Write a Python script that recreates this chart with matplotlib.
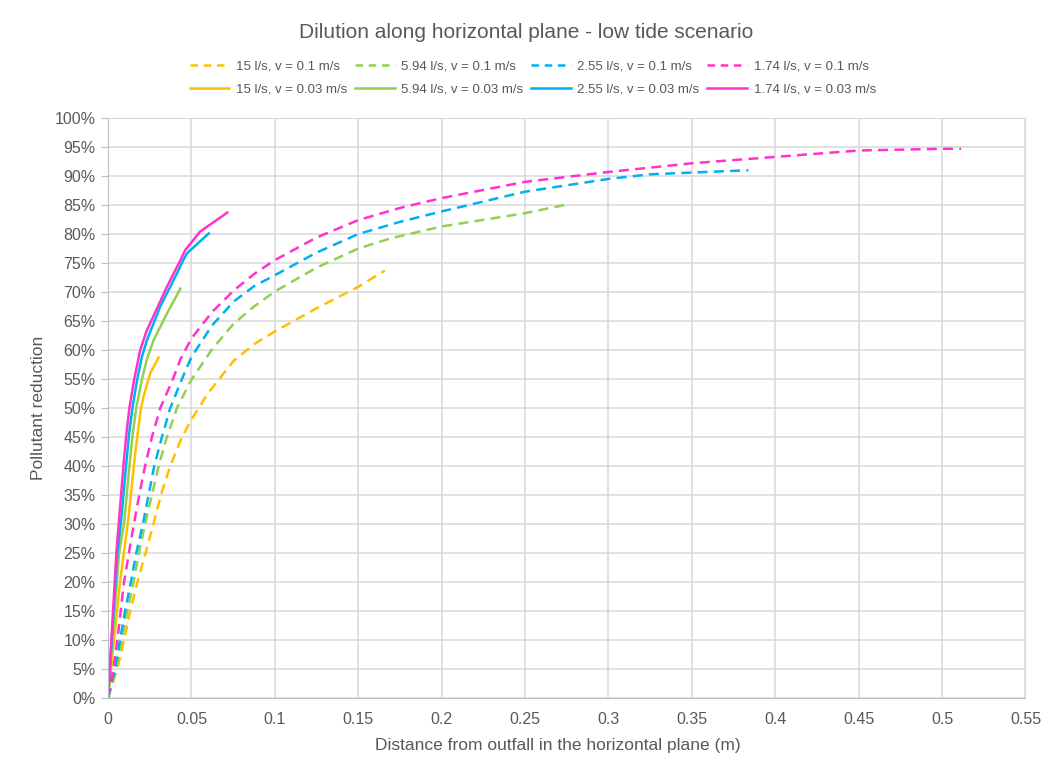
import matplotlib.pyplot as plt
from matplotlib.ticker import PercentFormatter

plt.rcParams['font.family'] = ['Liberation Sans', 'DejaVu Sans']

# distances (m) and pollutant reduction (%)
# v = 0.1 m/s (dashed)
x_15_fast = [0, 0.0056, 0.0096, 0.0133, 0.0176, 0.0225, 0.0272, 0.0317, 0.0373, 0.0443, 0.05,
             0.06, 0.0705, 0.0755, 0.0875, 0.1, 0.125, 0.15, 0.1659]
y_15_fast = [0, 5, 10, 15, 20, 25, 30, 35, 40, 45, 48, 52.6, 56.4, 58.2, 61, 63.2, 67.2, 70.9, 73.7]

x_594_fast = [0, 0.0048, 0.0082, 0.0116, 0.0153, 0.0185, 0.0222, 0.0263, 0.0303, 0.0353, 0.0413,
              0.0498, 0.0625, 0.0755, 0.0875, 0.1, 0.125, 0.15, 0.17, 0.185, 0.2, 0.25, 0.2737]
y_594_fast = [0, 5, 10, 15, 20, 25, 30, 35, 40, 45, 50, 54.8, 60.2, 64.6, 67.5, 70.1, 74.2, 77.5,
              79.3, 80.3, 81.3, 83.6, 85.0]

x_255_fast = [0, 0.0042, 0.0072, 0.0102, 0.0137, 0.0169, 0.0209, 0.0243, 0.0277, 0.0323, 0.0373,
              0.0443, 0.05, 0.0625, 0.0755, 0.0875, 0.1, 0.125, 0.15, 0.175, 0.2, 0.25, 0.3,
              0.325, 0.35, 0.3839]
y_255_fast = [0, 5, 10, 15, 20, 25, 30, 35, 40, 45, 50, 55, 58.8, 64.3, 68.4, 71, 72.9, 76.8, 80.0,
              82.1, 83.9, 87.3, 89.5, 90.3, 90.6, 91.0]

x_174_fast = [0, 0.0032, 0.0056, 0.0076, 0.0096, 0.0125, 0.0155, 0.0187, 0.0222, 0.0263, 0.0313,
              0.0389, 0.0434, 0.05, 0.0625, 0.0755, 0.0875, 0.1, 0.125, 0.15, 0.175, 0.2, 0.25,
              0.3, 0.35, 0.4, 0.45, 0.5, 0.5114]
y_174_fast = [0, 5, 10, 15, 20, 25, 30, 35, 40, 45, 50, 55, 58.4, 62, 66.6, 70.3, 73.1, 75.5, 79.4,
              82.4, 84.5, 86.2, 89.0, 90.7, 92.2, 93.3, 94.4, 94.7, 94.7]

# v = 0.03 m/s (solid)
x_15_slow = [0, 0.0072, 0.0122, 0.0162, 0.0196, 0.0213, 0.0253, 0.0303]
y_15_slow = [0, 20, 31, 42, 49.7, 52, 56, 58.7]

x_594_slow = [0, 0.0066, 0.0096, 0.0112, 0.0128, 0.0146, 0.0169, 0.0202, 0.0235, 0.0273, 0.0353,
              0.0434]
y_594_slow = [0, 25, 30, 35, 40, 45, 50, 54.8, 58.6, 61.7, 66.3, 70.6]

x_255_slow = [0, 0.0056, 0.0077, 0.0092, 0.0108, 0.0124, 0.0146, 0.0175, 0.0203, 0.0233, 0.0313,
              0.0413, 0.0451, 0.0474, 0.0604]
y_255_slow = [0, 25, 30, 35, 40, 45, 50, 55, 58.8, 61.7, 67.5, 73.2, 75.5, 76.7, 80.1]

x_174_slow = [0, 0.0050, 0.0064, 0.0078, 0.0092, 0.0108, 0.0128, 0.0157, 0.0193, 0.0230, 0.0273,
              0.0353, 0.0434, 0.0462, 0.0504, 0.0551, 0.0715]
y_174_slow = [0, 25, 30, 35, 40, 45, 50, 55, 60, 63.2, 65.9, 70.9, 75.5, 77.2, 78.7, 80.4, 83.7]

c_yellow = '#FFC000'
c_green = '#92D050'
c_blue = '#00B0F0'
c_pink = '#FF33CC'

fig = plt.figure(figsize=(10.52, 7.73), dpi=100)
ax = fig.add_axes([0.1027, 0.097, 0.8721, 0.7503])

dash = (4.0, 2.5)
lw = 1.8
ax.plot(x_15_fast, y_15_fast, color=c_yellow, lw=lw, dashes=dash, label='15 l/s, v = 0.1 m/s')
ax.plot(x_15_slow, y_15_slow, color=c_yellow, lw=lw, label='15 l/s, v = 0.03 m/s')
ax.plot(x_594_fast, y_594_fast, color=c_green, lw=lw, dashes=dash, label='5.94 l/s, v = 0.1 m/s')
ax.plot(x_594_slow, y_594_slow, color=c_green, lw=lw, label='5.94 l/s, v = 0.03 m/s')
ax.plot(x_255_fast, y_255_fast, color=c_blue, lw=lw, dashes=dash, label='2.55 l/s, v = 0.1 m/s')
ax.plot(x_255_slow, y_255_slow, color=c_blue, lw=lw, label='2.55 l/s, v = 0.03 m/s')
ax.plot(x_174_fast, y_174_fast, color=c_pink, lw=lw, dashes=dash, label='1.74 l/s, v = 0.1 m/s')
ax.plot(x_174_slow, y_174_slow, color=c_pink, lw=lw, label='1.74 l/s, v = 0.03 m/s')

ax.set_xlim(0, 0.55)
ax.set_ylim(0, 100)
ax.set_xticks([i * 0.05 for i in range(12)])
ax.set_xticklabels(['0', '0.05', '0.1', '0.15', '0.2', '0.25', '0.3', '0.35', '0.4', '0.45',
                    '0.5', '0.55'])
ax.set_yticks(range(0, 101, 5))
ax.yaxis.set_major_formatter(PercentFormatter(decimals=0))
ax.grid(True, color='#D9D9D9', lw=1.1)
ax.set_axisbelow(True)
for s in ['top', 'right']:
    ax.spines[s].set_color('#D9D9D9')
for s in ['left', 'bottom']:
    ax.spines[s].set_color('#BFBFBF')
ax.tick_params(colors='#595959', labelsize=11.5, length=0)
ax.tick_params(axis='x', pad=10)
ax.tick_params(axis='y', length=5, color='#BFBFBF', direction='out', pad=4)

ax.set_xlabel('Distance from outfall in the horizontal plane (m)', fontsize=12.5,
              color='#595959', labelpad=8)
ax.xaxis.label.set_x(0.49)
ax.set_ylabel('Pollutant reduction', fontsize=12.5, color='#595959', labelpad=6)
fig.text(0.5, 1 - 32 / 773, 'Dilution along horizontal plane - low tide scenario',
         fontsize=15, color='#595959', ha='center', va='center')

leg = fig.legend(*ax.get_legend_handles_labels(), loc='center',
                 bbox_to_anchor=((108 + 0.463 * 917.5) / 1052, 1 - 78 / 773), ncol=4,
                 frameon=False, fontsize=9.5, labelcolor='#595959', handlelength=3.0,
                 columnspacing=0.6, handletextpad=0.5, labelspacing=0.8)
for i, line in enumerate(leg.get_lines()):
    if i % 2 == 0:
        line.set_dashes((3.0, 2.3))

fig.savefig('out.png', dpi=100)
